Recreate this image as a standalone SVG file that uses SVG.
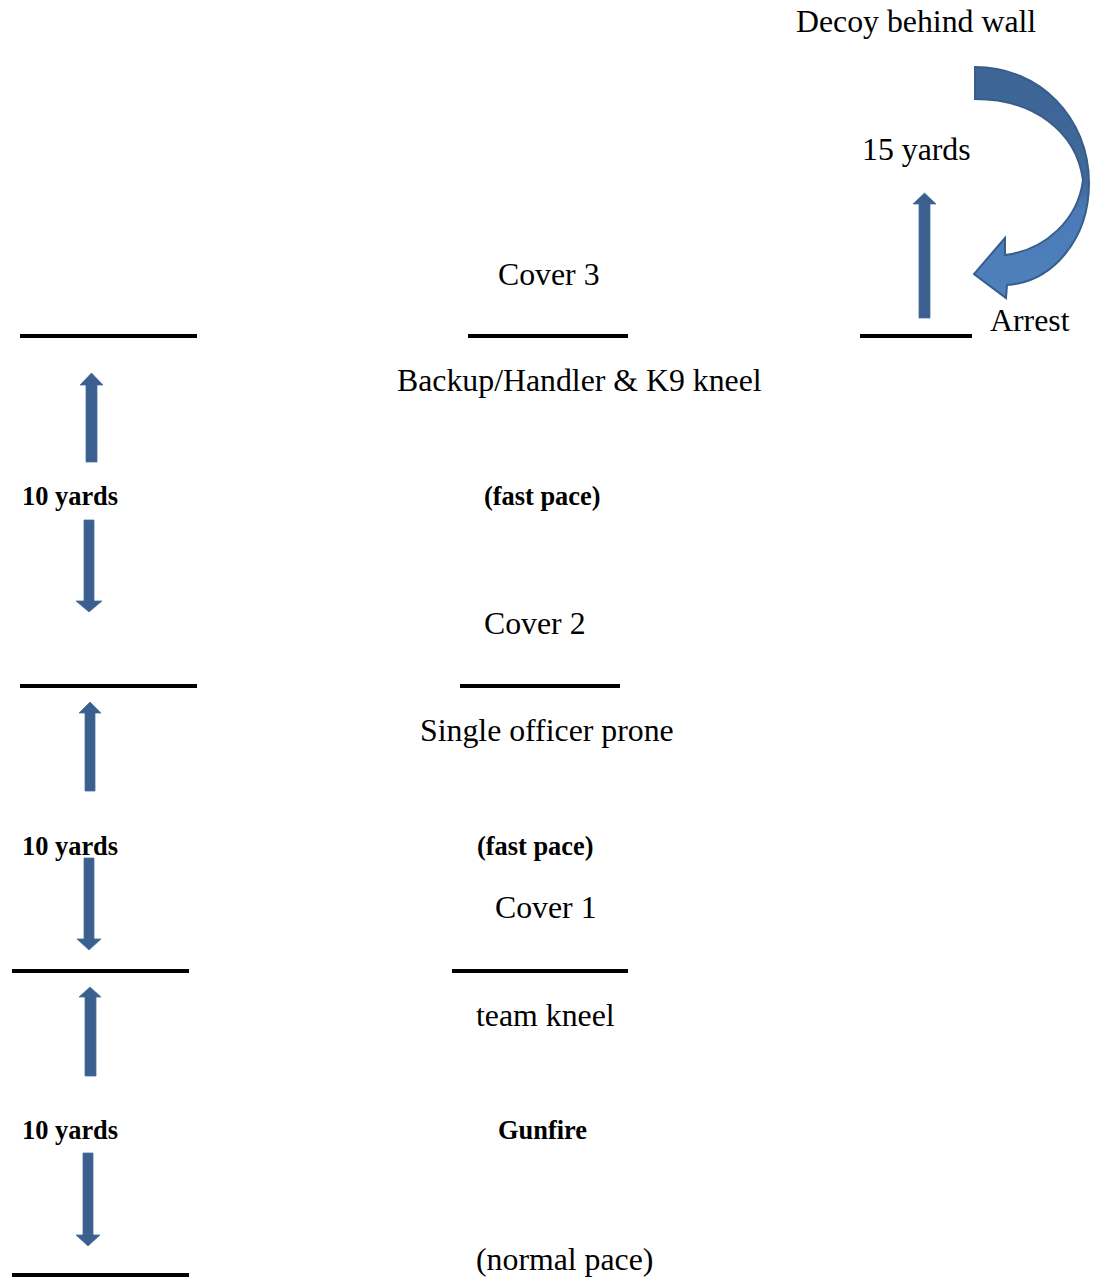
<svg xmlns="http://www.w3.org/2000/svg" width="1095" height="1280" viewBox="0 0 1095 1280">
<style>
.t{font-family:"Liberation Serif","Times New Roman",serif;font-size:31.8px;fill:#000}
.b{font-family:"Liberation Serif","Times New Roman",serif;font-size:26.4px;font-weight:bold;fill:#000}
.ln{stroke:#000;stroke-width:4;fill:none}
.ar{fill:#3B5F8F;stroke:#4A6E9C;stroke-width:0.8}
</style>
<defs>
<linearGradient id="cg" x1="0" y1="67" x2="0" y2="298" gradientUnits="userSpaceOnUse">
<stop offset="0" stop-color="#3D6596"/>
<stop offset="0.5" stop-color="#3F6999"/>
<stop offset="0.62" stop-color="#4A7BB6"/>
<stop offset="1" stop-color="#4F81BD"/>
</linearGradient>
</defs>
<rect width="1095" height="1280" fill="#fff"/>
<g id="lines">
<line class="ln" x1="20" y1="336" x2="197" y2="336"/>
<line class="ln" x1="468" y1="336" x2="628" y2="336"/>
<line class="ln" x1="860" y1="336" x2="972" y2="336"/>
<line class="ln" x1="20" y1="686" x2="197" y2="686"/>
<line class="ln" x1="460" y1="686" x2="620" y2="686"/>
<line class="ln" x1="12" y1="971" x2="189" y2="971"/>
<line class="ln" x1="452" y1="971" x2="628" y2="971"/>
<line class="ln" x1="12" y1="1275" x2="189" y2="1275"/>
</g>
<g id="connectors">
<path class="ar" d="M91.5 373 L103 385 L97 385 L97 462 L86 462 L86 385 L80 385 Z"/>
<path class="ar" d="M89 612 L102 601 L94 601 L94 520 L84 520 L84 601 L76 601 Z"/>
<path class="ar" d="M90 702 L101 713 L95 713 L95 791 L85 791 L85 713 L79 713 Z"/>
<path class="ar" d="M89 950 L101 939 L94 939 L94 858 L84 858 L84 939 L77 939 Z"/>
<path class="ar" d="M90 987 L101 997 L96 997 L96 1076 L85 1076 L85 997 L79 997 Z"/>
<path class="ar" d="M88 1246 L100 1235 L93 1235 L93 1153 L83 1153 L83 1235 L76 1235 Z"/>
<path class="ar" d="M924.5 193 L936 204 L930 204 L930 318 L919 318 L919 204 L913 204 Z"/>
<path id="curved" fill="url(#cg)" stroke="#385D8A" stroke-width="2" d="M975 67 C1040 67 1089 118 1089 183 C1089 240 1052 282 1007 285 L1006 298 L974 274 L1005 238 L1005 255 C1045 250 1078 220 1083 180 C1076 130 1032 99 975 99 Z"/>
</g>
<g id="labels">
<text class="t" x="796" y="32">Decoy behind wall</text>
<text class="t" x="862" y="160">15 yards</text>
<text class="t" x="498" y="285">Cover 3</text>
<text class="t" x="990" y="331">Arrest</text>
<text class="t" x="397" y="391">Backup/Handler &amp; K9 kneel</text>
<text class="b" x="22" y="505">10 yards</text>
<text class="b" x="484" y="505">(fast pace)</text>
<text class="t" x="484" y="634">Cover 2</text>
<text class="t" x="420" y="741">Single officer prone</text>
<text class="b" x="22" y="855">10 yards</text>
<text class="b" x="477" y="855">(fast pace)</text>
<text class="t" x="495" y="918">Cover 1</text>
<text class="t" x="476" y="1026">team kneel</text>
<text class="b" x="22" y="1139">10 yards</text>
<text class="b" x="498" y="1139">Gunfire</text>
<text class="t" x="476" y="1270">(normal pace)</text>
</g>
</svg>
